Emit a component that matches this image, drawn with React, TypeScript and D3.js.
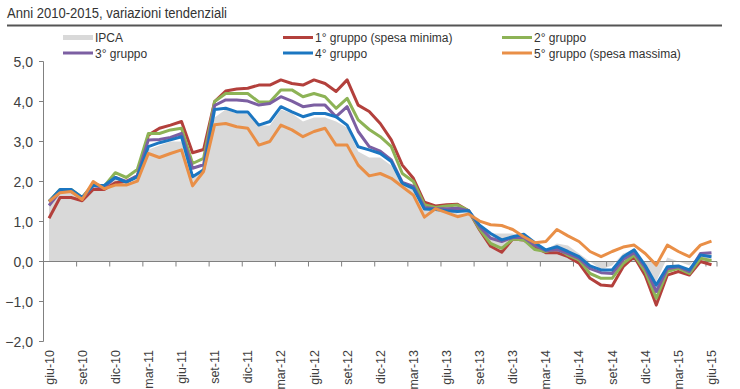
import * as d3 from "d3";

const tickLabels = [
  "giu-10", "set-10", "dic-10", "mar-11", "giu-11", "set-11", "dic-11",
  "mar-12", "giu-12", "set-12", "dic-12", "mar-13", "giu-13", "set-13",
  "dic-13", "mar-14", "giu-14", "set-14", "dic-14", "mar-15", "giu-15",
];
const yTicks = [-2, -1, 0, 1, 2, 3, 4, 5];

const ipca = [
  1.5, 1.8, 1.8, 1.6, 2.0, 1.9, 2.1, 1.9, 2.1, 2.8, 2.9, 3.0, 3.0, 2.1, 2.3,
  3.6, 3.8, 3.7, 3.7, 3.4, 3.4, 3.8, 3.7, 3.5, 3.6, 3.6, 3.5, 3.35, 2.75, 2.6,
  2.6, 2.4, 2.0, 1.8, 1.3, 1.3, 1.3, 1.2, 1.2, 0.9, 0.7, 0.7, 0.7, 0.6, 0.4,
  0.3, 0.45, 0.4, 0.2, 0.0, -0.2, -0.1, 0.2, 0.3, -0.1, -0.5, 0.1, 0.0, -0.1, 0.2, 0.2,
];
const gruppo1 = [
  1.08, 1.6, 1.6, 1.52, 1.8, 1.8, 1.97, 2.0, 2.12, 3.16, 3.33, 3.41, 3.5, 2.72, 2.8,
  4.0, 4.26, 4.31, 4.33, 4.41, 4.41, 4.54, 4.45, 4.41, 4.54, 4.45, 4.25, 4.54, 3.91, 3.75,
  3.45, 3.04, 2.41, 2.08, 1.48, 1.39, 1.42, 1.43, 1.27, 0.79, 0.38, 0.23, 0.56, 0.54, 0.37,
  0.22, 0.22, 0.12, -0.04, -0.42, -0.59, -0.61, -0.13, 0.12, -0.35, -1.09, -0.34, -0.25, -0.34, 0.0, -0.08,
];
const gruppo2 = [
  1.5, 1.8, 1.8, 1.6, 1.93, 1.88, 2.22, 2.1, 2.3, 3.2, 3.2, 3.29, 3.33, 2.45, 2.58,
  4.0, 4.2, 4.2, 4.2, 3.99, 3.99, 4.29, 4.29, 4.12, 4.2, 4.12, 3.83, 4.08, 3.54, 3.3,
  3.12, 2.87, 2.2, 2.0, 1.42, 1.35, 1.39, 1.41, 1.27, 0.81, 0.45, 0.33, 0.56, 0.54, 0.3,
  0.25, 0.33, 0.16, 0.04, -0.3, -0.42, -0.42, -0.05, 0.16, -0.25, -0.92, -0.25, -0.17, -0.3, 0.08, 0.02,
];
const gruppo3 = [
  1.4, 1.75, 1.75, 1.58, 1.9, 1.85, 2.1, 2.0, 2.15, 3.04, 3.05, 3.1, 3.2, 2.33, 2.42,
  3.9, 4.04, 4.04, 4.01, 3.91, 3.95, 4.12, 4.01, 3.87, 3.91, 3.91, 3.62, 3.87, 3.25, 2.87,
  2.76, 2.54, 1.98, 1.88, 1.35, 1.32, 1.32, 1.33, 1.27, 0.87, 0.58, 0.5, 0.6, 0.6, 0.4,
  0.27, 0.3, 0.2, 0.08, -0.18, -0.28, -0.3, 0.05, 0.22, -0.15, -0.75, -0.18, -0.13, -0.25, 0.2, 0.22,
];
const gruppo4 = [
  1.5, 1.8, 1.8, 1.6, 1.9, 1.9, 2.1, 1.98, 2.12, 2.87, 2.97, 3.04, 3.12, 2.12, 2.29,
  3.8, 3.83, 3.74, 3.74, 3.41, 3.5, 3.87, 3.74, 3.62, 3.7, 3.7, 3.62, 3.41, 2.87, 2.79,
  2.7, 2.5, 1.95, 1.83, 1.31, 1.3, 1.27, 1.25, 1.27, 0.91, 0.7, 0.54, 0.62, 0.68, 0.47,
  0.29, 0.37, 0.25, 0.12, -0.11, -0.21, -0.21, 0.12, 0.29, -0.1, -0.59, -0.13, -0.11, -0.21, 0.16, 0.12,
];
const gruppo5 = [
  1.5, 1.72, 1.75, 1.55, 2.0, 1.82, 1.91, 1.91, 2.01, 2.7, 2.6, 2.7, 2.79, 1.89, 2.25,
  3.42, 3.45, 3.37, 3.33, 2.91, 3.0, 3.41, 3.29, 3.12, 3.25, 3.33, 2.91, 2.91, 2.41, 2.14,
  2.2, 2.08, 1.87, 1.66, 1.11, 1.32, 1.22, 1.12, 1.19, 1.01, 0.92, 0.9, 0.8, 0.62, 0.47,
  0.5, 0.8, 0.64, 0.5, 0.25, 0.12, 0.25, 0.36, 0.41, 0.2, -0.09, 0.41, 0.25, 0.12, 0.41, 0.51,
];

const series = [
  { name: "1° gruppo (spesa minima)", values: gruppo1, color: "#b3403c" },
  { name: "2° gruppo", values: gruppo2, color: "#8db356" },
  { name: "3° gruppo", values: gruppo3, color: "#7c5fa2" },
  { name: "4° gruppo", values: gruppo4, color: "#1b76c1" },
  { name: "5° gruppo (spesa massima)", values: gruppo5, color: "#e98f47" },
];

const legend = [
  { name: "IPCA", color: "#d9d9d9", area: true },
  ...series.map(s => ({ name: s.name, color: s.color, area: false })),
];

const W = 740;
const H = 389;
const narrow = "'Liberation Sans Narrow', 'Liberation Sans', Arial, sans-serif";
const regular = "'Liberation Sans', Arial, sans-serif";

export default function App() {
  const x = d3.scaleLinear().domain([-0.5, 60.5]).range([43.5, 717]);
  const y = d3.scaleLinear().domain([-2, 5]).range([341.5, 61.5]);

  const area = d3.area<number>()
    .x((_, i) => x(i))
    .y0(y(0))
    .y1(d => y(d));
  const line = d3.line<number>()
    .x((_, i) => x(i))
    .y(d => y(d));

  // category-boundary ticks every 3 months
  const boundaries = d3.range(0, 61, 3).map(i => i - 0.5).concat([60.5]);

  return (
    <svg width={W} height={H} style={{ position: "fixed", left: 0, top: 0, background: "#fff" }}>
      <text x={7} y={18} fontFamily={regular} fontSize={14} fill="#333"
        textLength={220} lengthAdjust="spacingAndGlyphs">
        Anni 2010-2015, variazioni tendenziali
      </text>
      <line x1={7} x2={722} y1={25.5} y2={25.5} stroke="#555" strokeWidth={2} />

      {legend.map((d, k) => {
        const lx = [63, 283, 502][k % 3];
        const ly = 37.5 + Math.floor(k / 3) * 15.5;
        return (
          <g key={d.name}>
            <line x1={lx} x2={lx + 30} y1={ly} y2={ly} stroke={d.color} strokeWidth={d.area ? 5 : 3} />
            <text x={lx + 32} y={ly + 4.5} fontFamily={narrow} fontSize={12} fill="#333">{d.name}</text>
          </g>
        );
      })}

      <path d={area(ipca) ?? ""} fill="#d9d9d9" />

      {/* y axis */}
      <line x1={43.5} x2={43.5} y1={y(5)} y2={y(-2)} stroke="#808080" strokeWidth={1} />
      {yTicks.map(t => (
        <g key={t}>
          <line x1={39} x2={43.5} y1={y(t)} y2={y(t)} stroke="#808080" />
          <text x={33} y={y(t) + 5} textAnchor="end" fontFamily={regular} fontSize={14} fill="#404040">
            {d3.format(".1f")(t).replace(".", ",")}
          </text>
        </g>
      ))}

      {/* x axis at zero */}
      <line x1={43.5} x2={x(60.5)} y1={y(0)} y2={y(0)} stroke="#808080" strokeWidth={1} />
      {boundaries.map(b => (
        <line key={b} x1={x(b)} x2={x(b)} y1={y(0)} y2={y(0) + 5} stroke="#808080" />
      ))}

      {series.map(s => (
        <path key={s.name} d={line(s.values) ?? ""} fill="none" stroke={s.color} strokeWidth={3}
          strokeLinejoin="round" />
      ))}

      {tickLabels.map((t, k) => (
        <text key={t} transform={`translate(${x(k * 3) + 4.5},350) rotate(-90)`} textAnchor="end"
          fontFamily={narrow} fontSize={12.5} fill="#404040">
          {t}
        </text>
      ))}
    </svg>
  );
}
